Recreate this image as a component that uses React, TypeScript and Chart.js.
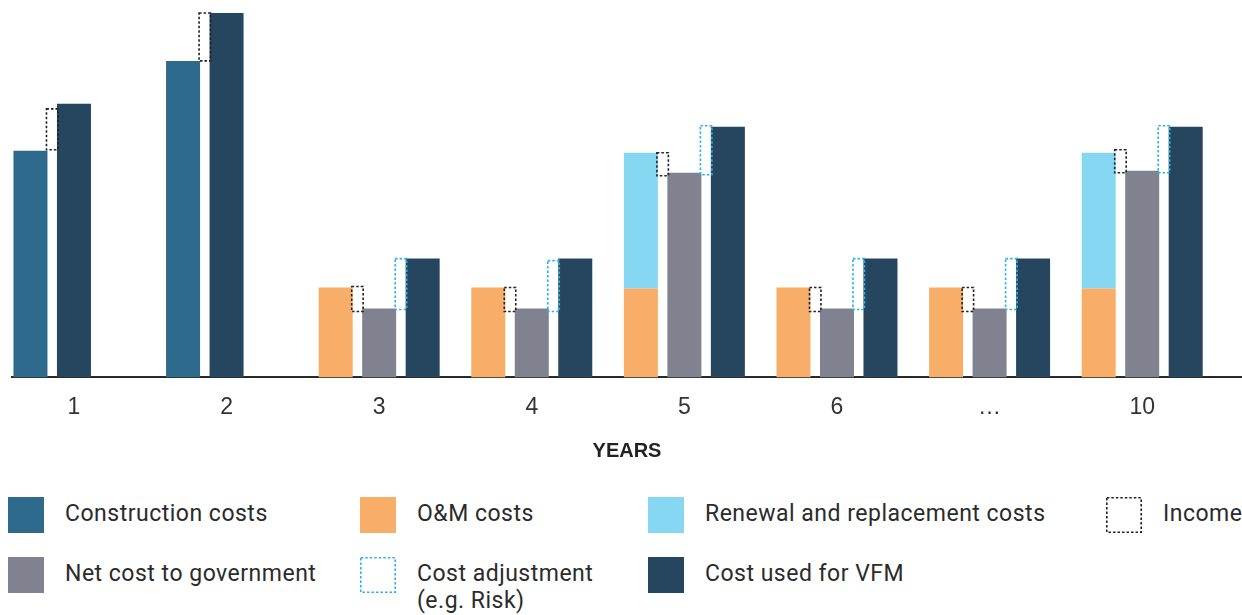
import React, { useEffect, useRef } from "react";
import { Chart, registerables } from "chart.js";

Chart.register(...registerables);

// ---- data (heights in arbitrary cost units) ----
const categories = ["1", "2", "3", "4", "5", "6", "…", "10"];
const constructionCosts = [227, 317, null, null, null, null, null, null];
const omCosts = [null, null, 90, 90, 89, 90, 90, 89];
const renewalCosts = [null, null, null, null, 136, null, null, 136];
const netCost = [null, null, 69, 69, 205, 69, 69, 207];
const vfmCostEarly = [274, 365, null, null, null, null, null, null];
const vfmCost = [null, null, 119, 119, 251, 119, 119, 251];
const income = [[228, 269], [317, 365], [66, 91], [66, 90], [202, 225], [66, 90], [66, 90], [205, 228]];
const costAdjustment = [null, null, [68, 119], [66, 117], [203, 252], [68, 119], [68, 119], [205, 252]];

const COLORS = {
  construction: "#2D6A8B",
  om: "#F8AE69",
  renewal: "#85D7F2",
  net: "#80838F",
  vfm: "#264660",
  income: "#222222",
  adj: "#2BB4E4",
};

const FONT = "Roboto, Lato, sans-serif";
const AXIS_FONT = "'Liberation Sans', Arial, sans-serif";

const toPts = (arr: any[]) => arr.map((v, i) => ({ x: i, y: v }));

// dotted "range" boxes drawn in the gap between two stacks, using the y scale
const gapBoxes = {
  id: "gapBoxes",
  afterDatasetsDraw(chart: any, _args: any, opts: any) {
    const ctx = chart.ctx;
    const yScale = chart.scales.y;
    const findBar = (stack: string, j: number) => {
      const dss = chart.data.datasets;
      for (let i = 0; i < dss.length; i++) {
        const p = dss[i].data[j];
        if (dss[i].stack === stack && p && p.y != null) return chart.getDatasetMeta(i).data[j];
      }
      return null;
    };
    (opts.boxes || []).forEach((box: any) => {
      ctx.save();
      ctx.strokeStyle = box.color;
      ctx.lineWidth = 1.6;
      ctx.setLineDash([2.5, 2]);
      box.values.forEach((v: any, j: number) => {
        if (!v) return;
        const L = findBar(box.left, j);
        const R = findBar(box.right, j);
        if (!L || !R) return;
        const lp = L.getProps(["x", "width"], true);
        const rp = R.getProps(["x", "width"], true);
        const x0 = lp.x + lp.width / 2 - 1;
        const x1 = rp.x - rp.width / 2 + 1;
        const yTop = yScale.getPixelForValue(v[1]);
        const yBot = yScale.getPixelForValue(v[0]);
        ctx.strokeRect(x0, yTop, x1 - x0, yBot - yTop);
      });
      ctx.restore();
    });
  },
};

const legendItems = [
  { label: "Construction costs", color: COLORS.construction, col: 0, row: 0 },
  { label: "O&M costs", color: COLORS.om, col: 1, row: 0 },
  { label: "Renewal and replacement costs", color: COLORS.renewal, col: 2, row: 0 },
  { label: "Income", dash: COLORS.income, col: 3, row: 0 },
  { label: "Net cost to government", color: COLORS.net, col: 0, row: 1 },
  { label: "Cost adjustment\n(e.g. Risk)", dash: COLORS.adj, col: 1, row: 1 },
  { label: "Cost used for VFM", color: COLORS.vfm, col: 2, row: 1 },
];
const colX = [8, 360, 648, 1106];
const rowY = [497, 557];

export default function App() {
  const ref = useRef<HTMLCanvasElement>(null);
  useEffect(() => {
    if (!ref.current) return;
    const common = { categoryPercentage: 0.855, barPercentage: 0.782, borderWidth: 0 };
    const chart = new Chart(ref.current, {
      type: "bar",
      data: {
        datasets: [
          { label: "Construction costs", data: toPts(constructionCosts), backgroundColor: COLORS.construction, stack: "A", ...common },
          { label: "O&M costs", data: toPts(omCosts), backgroundColor: COLORS.om, stack: "A", ...common },
          { label: "Renewal and replacement costs", data: toPts(renewalCosts), backgroundColor: COLORS.renewal, stack: "A", ...common },
          { label: "Cost used for VFM", data: toPts(vfmCostEarly), backgroundColor: COLORS.vfm, stack: "B", ...common },
          { label: "Net cost to government", data: toPts(netCost), backgroundColor: COLORS.net, stack: "B", ...common },
          { label: "Cost used for VFM", data: toPts(vfmCost), backgroundColor: COLORS.vfm, stack: "C", ...common },
        ] as any,
      },
      options: {
        animation: false,
        responsive: false,
        layout: { padding: { top: 8, left: 12, right: 0, bottom: 0 } },
        plugins: {
          legend: { display: false },
          tooltip: { enabled: false },
          gapBoxes: {
            boxes: [
              { values: income, left: "A", right: "B", color: COLORS.income },
              { values: costAdjustment, left: "B", right: "C", color: COLORS.adj },
            ],
          },
        },
        scales: {
          x: {
            type: "linear",
            offset: false,
            min: -0.406,
            max: 7.654,
            stacked: true,
            grid: { display: false, drawTicks: false, offset: false },
            border: { display: true, color: "#2a2a2a", width: 2 },
            ticks: {
              stepSize: 1,
              includeBounds: false,
              autoSkip: false,
              maxRotation: 0,
              padding: 16,
              color: "#333",
              font: { family: AXIS_FONT, size: 23 },
              callback: (v: any) => categories[v] ?? "",
            },
            title: {
              display: true,
              text: "YEARS",
              color: "#222",
              font: { family: AXIS_FONT, size: 20, weight: "bold" },
              padding: { top: 2, bottom: 0 },
            },
          },
          y: {
            display: false,
            stacked: true,
            min: 0,
            max: 370,
          },
        },
      } as any,
      plugins: [gapBoxes],
    });
    return () => chart.destroy();
  }, []);

  return (
    <div style={{ position: "absolute", left: 0, top: 0, width: 1242, height: 615, background: "#fff", fontFamily: FONT, overflow: "hidden" }}>
      <canvas ref={ref} width={1242} height={463} style={{ display: "block" }} />
      {legendItems.map((it, k) => (
        <div key={k} style={{ position: "absolute", left: colX[it.col], top: rowY[it.row], display: "flex", alignItems: "flex-start" }}>
          {it.dash ? (
            <svg width={36} height={36} style={{ flex: "none" }}>
              <rect x={0.8} y={0.8} width={34.4} height={34.4} fill="none" stroke={it.dash} strokeWidth={1.6} strokeDasharray="2.5 2" />
            </svg>
          ) : (
            <div style={{ width: 36, height: 36, background: it.color, flex: "none" }} />
          )}
          <div style={{ marginLeft: 21, fontSize: 23, lineHeight: "27px", letterSpacing: "0.5px", color: "#2b2b2b", whiteSpace: "pre", marginTop: 3 }}>{it.label}</div>
        </div>
      ))}
    </div>
  );
}
